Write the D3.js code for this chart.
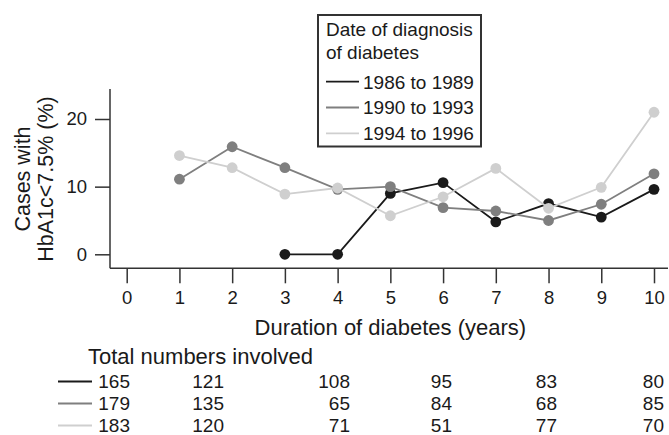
<!DOCTYPE html>
<html>
<head>
<meta charset="utf-8">
<script src="https://cdn.jsdelivr.net/npm/d3@7"></script>
<style>
  html, body { margin: 0; padding: 0; background: #fff; }
  svg { display: block; font-family: "Liberation Sans", Arial, Helvetica, sans-serif; }
</style>
</head>
<body>
<svg id="chart" width="669" height="435"></svg>
<script>
// ---- Data ----
const durations = [0, 1, 2, 3, 4, 5, 6, 7, 8, 9, 10];
const seriesNames = ["1986 to 1989", "1990 to 1993", "1994 to 1996"];
const years1986 = [3, 4, 5, 6, 7, 8, 9, 10];
const values1986 = [0, 0, 9.0, 10.6, 4.8, 7.5, 5.5, 9.6];
const years1990 = [1, 2, 3, 4, 5, 6, 7, 8, 9, 10];
const values1990 = [11.1, 15.9, 12.8, 9.6, 10.0, 6.9, 6.4, 5.0, 7.4, 11.9];
const years1994 = [1, 2, 3, 4, 5, 6, 7, 8, 9, 10];
const values1994 = [14.6, 12.8, 8.9, 9.8, 5.7, 8.5, 12.7, 6.8, 9.9, 21.0];
const yTicks = [0, 10, 20];
const totals1986 = [165, 121, 108, 95, 83, 80];
const totals1990 = [179, 135, 65, 84, 68, 85];
const totals1994 = [183, 120, 71, 51, 77, 70];
const colors = ["#1a1a1a", "#7f7f7f", "#cfcfcf"];

const series = [
  { name: seriesNames[0], xs: years1986, ys: values1986, color: colors[0], totals: totals1986 },
  { name: seriesNames[1], xs: years1990, ys: values1990, color: colors[1], totals: totals1990 },
  { name: seriesNames[2], xs: years1994, ys: values1994, color: colors[2], totals: totals1994 }
];

const svg = d3.select("#chart");
const textColor = "#1a1a1a";
const axisColor = "#333";

// ---- Scales ----
const x = d3.scaleLinear().domain([0, 10]).range([126.7, 654]);
const y = d3.scaleLinear().domain([0, 20]).range([254.3, 119]);

const axisLeftX = 110, axisBottomY = 268.3, plotTop = 89, plotRight = 668;

// ---- Axes lines ----
svg.append("line").attr("x1", axisLeftX).attr("x2", axisLeftX)
  .attr("y1", plotTop).attr("y2", axisBottomY)
  .attr("stroke", axisColor).attr("stroke-width", 1.5);
svg.append("line").attr("x1", axisLeftX).attr("x2", plotRight)
  .attr("y1", axisBottomY).attr("y2", axisBottomY)
  .attr("stroke", axisColor).attr("stroke-width", 1.5);

// y axis ticks (offset)
const yAxis = d3.axisLeft(y).tickValues(yTicks).tickSize(15).tickPadding(8).tickFormat(d3.format("d"));
const gy = svg.append("g").attr("transform", `translate(${axisLeftX},0)`).call(yAxis);
gy.select(".domain").remove();
gy.selectAll(".tick line").attr("stroke", axisColor).attr("stroke-width", 1.5);
gy.selectAll(".tick text").attr("fill", textColor).style("font-size", "18.5px");

// x axis ticks (offset)
const xAxis = d3.axisBottom(x).tickValues(durations).tickSize(15).tickPadding(8).tickFormat(d3.format("d"));
const gx = svg.append("g").attr("transform", `translate(0,${axisBottomY})`).call(xAxis);
gx.select(".domain").remove();
gx.selectAll(".tick line").attr("stroke", axisColor).attr("stroke-width", 1.5);
gx.selectAll(".tick text").attr("fill", textColor).style("font-size", "18.5px");

// ---- Axis titles ----
svg.append("text").attr("x", x(5)).attr("y", 335)
  .attr("text-anchor", "middle").attr("fill", textColor)
  .style("font-size", "22px").text("Duration of diabetes (years)");

const yTitle = svg.append("g").attr("transform", "translate(0,179) rotate(-90)");
yTitle.append("text").attr("x", 0).attr("y", 30).attr("text-anchor", "middle")
  .attr("fill", textColor).style("font-size", "21.5px").text("Cases with");
yTitle.append("text").attr("x", 0).attr("y", 52.5).attr("text-anchor", "middle")
  .attr("fill", textColor).style("font-size", "21.5px").text("HbA1c<7.5% (%)");

// ---- Series ----
const line = d3.line().x(d => x(d[0])).y(d => y(d[1]));
series.forEach(s => {
  const pts = s.xs.map((v, i) => [v, s.ys[i]]);
  svg.append("path").datum(pts).attr("d", line)
    .attr("fill", "none").attr("stroke", s.color).attr("stroke-width", 1.8);
  svg.append("g").selectAll("circle").data(pts).join("circle")
    .attr("cx", d => x(d[0])).attr("cy", d => y(d[1])).attr("r", 5.4)
    .attr("fill", s.color);
});

// ---- Legend ----
const lg = svg.append("g");
lg.append("rect").attr("x", 318).attr("y", 15).attr("width", 163).attr("height", 131.5)
  .attr("fill", "#fff").attr("stroke", axisColor).attr("stroke-width", 2);
lg.append("text").attr("x", 326).attr("y", 35.5).attr("fill", textColor)
  .style("font-size", "19px").text("Date of diagnosis");
lg.append("text").attr("x", 326).attr("y", 58.5).attr("fill", textColor)
  .style("font-size", "19px").text("of diabetes");
series.forEach((s, i) => {
  const cy = 81.7 + i * 25.8;
  lg.append("line").attr("x1", 326).attr("x2", 359).attr("y1", cy).attr("y2", cy)
    .attr("stroke", s.color).attr("stroke-width", 1.8);
  lg.append("text").attr("x", 363).attr("y", cy + 6.8).attr("fill", textColor)
    .style("font-size", "19px").text(s.name);
});

// ---- Table of totals ----
svg.append("text").attr("x", 88).attr("y", 364).attr("fill", textColor)
  .style("font-size", "22px").text("Total numbers involved");
const colRight = [130, 224, 350, 452, 557, 664];
series.forEach((s, i) => {
  const cy = 381.5 + i * 22;
  svg.append("line").attr("x1", 58).attr("x2", 92).attr("y1", cy).attr("y2", cy)
    .attr("stroke", s.color).attr("stroke-width", 1.8);
  svg.append("g").selectAll("text").data(s.totals).join("text")
    .attr("x", (d, j) => colRight[j]).attr("y", cy + 6.8)
    .attr("text-anchor", "end").attr("fill", textColor)
    .style("font-size", "19px").text(d => d);
});
</script>
</body>
</html>
